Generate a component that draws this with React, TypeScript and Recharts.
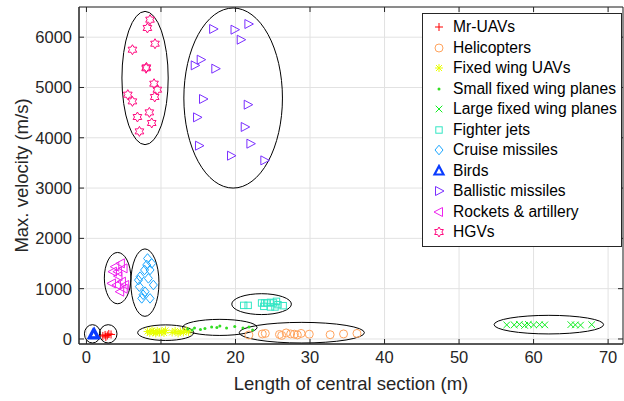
import React from 'react';
import { ScatterChart, Scatter, XAxis, YAxis, CartesianGrid, ReferenceArea, Legend, Label } from 'recharts';

// [length (m), max velocity (m/s)]
const mrUavs = [[2.2, 60], [2.5, 80], [2.6, 40], [2.8, 70], [3.0, 100], [3.3, 90]];
const helicopters = [
  [21.8, 80], [23.6, 100], [24.0, 110], [25.9, 90], [26.2, 70], [26.8, 120], [27.4, 100],
  [27.9, 95], [28.3, 80], [28.8, 110], [29.9, 95], [32.7, 85], [34.5, 100], [36.3, 110],
];
const fixedWingUavs = [
  [8.2, 150], [8.5, 120], [8.8, 170], [9.0, 140], [9.3, 110], [9.5, 160], [9.8, 130], [10.1, 150],
  [10.4, 120], [10.6, 170], [11.5, 130], [11.9, 160], [12.3, 110], [12.6, 150], [13.0, 130], [13.4, 170], [13.7, 140],
];
const smallFixedWing = [
  [13.6, 200], [14.2, 180], [14.5, 220], [15.3, 190], [15.9, 210], [16.8, 240], [17.5, 230],
  [17.9, 260], [18.8, 220], [19.9, 250], [21.0, 220], [21.8, 240], [22.3, 180],
];
const largeFixedWing = [
  [56.4, 280], [57.4, 280], [58.1, 290], [58.8, 270], [59.3, 290], [60.0, 280], [60.8, 285],
  [61.5, 280], [65.0, 285], [65.6, 280], [66.3, 275], [67.8, 285],
];
const fighterJets = [
  [21.1, 668], [21.7, 668], [23.5, 716], [23.8, 648], [23.9, 716], [24.2, 716], [24.7, 728],
  [24.7, 636], [25.1, 716], [25.3, 636], [25.5, 748], [25.7, 682], [26.4, 662],
];
const cruiseMissiles = [
  [8.09, 1471], [8.53, 1372], [7.8, 1372], [8.76, 1503], [7.2, 1239], [8.31, 1205], [8.98, 1073],
  [7.1, 1040], [7.87, 940], [7.42, 807], [8.53, 807], [6.98, 1170], [8.2, 1600], [7.6, 880],
];
const birds = [[0.9, 90], [1.0, 80], [1.05, 100]];
const ballisticMissiles = [
  [17.0, 6163], [19.87, 6149], [21.73, 6262], [20.7, 5950], [15.33, 5553], [14.53, 5440],
  [17.29, 5374], [15.64, 4771], [21.64, 4658], [14.84, 4406], [21.24, 4215], [22.0, 3883],
  [15.1, 3843], [19.4, 3644], [23.87, 3551],
];
const rockets = [
  [3.87, 1437], [4.62, 1503], [4.98, 1404], [3.56, 1338], [4.22, 1338], [5.2, 1073],
  [3.42, 1105], [4.09, 1073], [4.53, 940], [4.76, 1139], [4.3, 1250], [5.0, 1000],
];
const hgvs = [
  [8.53, 6348], [8.18, 6183], [9.2, 5870], [6.17, 5751], [8.0, 5382], [8.05, 5400], [9.07, 5075],
  [9.51, 4956], [9.16, 4811], [5.55, 4857], [6.17, 4724], [8.44, 4505], [6.84, 4413], [8.76, 4294], [7.11, 4127],
];

// cluster ellipses: [x1, x2, y1, y2]
const ellipses = [
  [-0.27, 1.88, -80, 284],
  [1.74, 4.1, -80, 284],
  [6.87, 14.4, -30, 280],
  [12.9, 22.9, 70, 390],
  [20.5, 37.3, -80, 330],
  [19.5, 27.5, 485, 900],
  [54.7, 69.4, 100, 470],
  [2.4, 5.96, 700, 1720],
  [5.96, 9.73, 450, 1790],
  [4.76, 10.97, 3863, 6513],
  [13.07, 26.3, 3000, 6580],
];

const xTicks = [0, 10, 20, 30, 40, 50, 60, 70];
const yTicks = [0, 1000, 2000, 3000, 4000, 5000, 6000];

const series = [
  { name: 'Mr-UAVs', data: mrUavs, kind: 'plus', color: '#FF0000' },
  { name: 'Helicopters', data: helicopters, kind: 'circle', color: '#FFA35C' },
  { name: 'Fixed wing UAVs', data: fixedWingUavs, kind: 'asterisk', color: '#E8FF00' },
  { name: 'Small fixed wing planes', data: smallFixedWing, kind: 'dot', color: '#33DD22' },
  { name: 'Large fixed wing planes', data: largeFixedWing, kind: 'cross', color: '#11EE22' },
  { name: 'Fighter jets', data: fighterJets, kind: 'square', color: '#33E6C4' },
  { name: 'Cruise missiles', data: cruiseMissiles, kind: 'diamond', color: '#1AA6FF' },
  { name: 'Birds', data: birds, kind: 'triUp', color: '#0A3CFF' },
  { name: 'Ballistic missiles', data: ballisticMissiles, kind: 'triRight', color: '#7A2EFF' },
  { name: 'Rockets & artillery', data: rockets, kind: 'triLeft', color: '#EE22EE' },
  { name: 'HGVs', data: hgvs, kind: 'hexagram', color: '#FF0A7F' },
];

const TEXT = '#262626';
const TOP = 7;
const RIGHT = 623;

const Marker = ({ kind, cx, cy, color }: any) => {
  const s = { fill: 'none', stroke: color, strokeWidth: 1 };
  const pts = (arr: number[][]) => arr.map(p => `${cx + p[0]},${cy + p[1]}`).join(' ');
  switch (kind) {
    case 'plus':
      return <path d={`M${cx - 4},${cy}H${cx + 4}M${cx},${cy - 4}V${cy + 4}`} {...s} />;
    case 'circle':
      return <circle cx={cx} cy={cy} r={4} {...s} />;
    case 'asterisk':
      return (
        <path
          d={`M${cx - 4},${cy}H${cx + 4}M${cx},${cy - 4}V${cy + 4}M${cx - 3},${cy - 3}L${cx + 3},${cy + 3}M${cx - 3},${cy + 3}L${cx + 3},${cy - 3}`}
          {...s}
        />
      );
    case 'dot':
      return <circle cx={cx} cy={cy} r={1.5} fill={color} />;
    case 'cross':
      return <path d={`M${cx - 3.3},${cy - 3.3}L${cx + 3.3},${cy + 3.3}M${cx - 3.3},${cy + 3.3}L${cx + 3.3},${cy - 3.3}`} {...s} />;
    case 'square':
      return <rect x={cx - 3.2} y={cy - 3.2} width={6.4} height={6.4} {...s} />;
    case 'diamond':
      return <polygon points={pts([[0, -4.8], [4, 0], [0, 4.8], [-4, 0]])} {...s} />;
    case 'triUp':
      return <polygon points={pts([[0, -5], [4.5, 3.5], [-4.5, 3.5]])} {...s} strokeWidth={2.2} />;
    case 'triRight':
      return <polygon points={pts([[5, 0], [-3.5, -4.5], [-3.5, 4.5]])} {...s} />;
    case 'triLeft':
      return <polygon points={pts([[-5, 0], [3.5, -4.5], [3.5, 4.5]])} {...s} />;
    case 'hexagram': {
      const arr: number[][] = [];
      for (let i = 0; i < 12; i++) {
        const r = i % 2 === 0 ? 5 : 2.9;
        const a = (-90 + i * 30) * Math.PI / 180;
        arr.push([r * Math.cos(a), r * Math.sin(a)]);
      }
      return <polygon points={pts(arr)} {...s} />;
    }
    default:
      return null;
  }
};

const XTick = ({ x, y, payload }: any) => (
  <g>
    <line x1={x} x2={x} y1={y} y2={y - 5} stroke={TEXT} />
    <line x1={x} x2={x} y1={TOP} y2={TOP + 5} stroke={TEXT} />
    <text x={x} y={y + 19} textAnchor="middle" fill={TEXT} fontSize={16.5}>{payload.value}</text>
  </g>
);

const YTick = ({ x, y, payload }: any) => (
  <g>
    <line x1={x} x2={x + 5} y1={y} y2={y} stroke={TEXT} />
    <line x1={RIGHT - 5} x2={RIGHT} y1={y} y2={y} stroke={TEXT} />
    <text x={x - 7} y={y + 6} textAnchor="end" fill={TEXT} fontSize={16.5}>{payload.value}</text>
  </g>
);

const EllipseShape = ({ x, y, width, height }: any) => (
  <ellipse cx={x + width / 2} cy={y + height / 2} rx={Math.abs(width) / 2} ry={Math.abs(height) / 2}
    fill="none" stroke="#000" strokeWidth={1} />
);

const LegendBox = () => (
  <div style={{ border: `1px solid ${TEXT}`, background: '#fff', padding: '3px 0 3px 0', boxSizing: 'border-box' }}>
    {series.map(s => (
      <div key={s.name} style={{ display: 'flex', alignItems: 'center', height: 20.5 }}>
        <svg width={30} height={14} style={{ flex: 'none' }}>
          <Marker kind={s.kind} cx={16} cy={7} color={s.color} />
        </svg>
        <span style={{ fontSize: 15.6, color: '#000', whiteSpace: 'nowrap' }}>{s.name}</span>
      </div>
    ))}
  </div>
);

export default function App() {
  return (
    <div style={{ position: 'absolute', left: 0, top: 0, fontFamily: '"Liberation Sans", Arial, sans-serif', background: '#fff' }}>
      <ScatterChart width={624} height={401} margin={{ top: TOP, right: 1, bottom: 0, left: 0 }}>
        <CartesianGrid stroke="#e2e2e2" />
        <XAxis
          type="number"
          dataKey="x"
          domain={[-1, 72]}
          ticks={xTicks}
          allowDataOverflow
          height={57}
          tickSize={0}
          tickMargin={0}
          tickLine={false}
          axisLine={{ stroke: TEXT }}
          tick={<XTick />}
        >
          <Label
            content={({ viewBox }: any) => (
              <text x={viewBox.x + viewBox.width / 2} y={viewBox.y + 46} textAnchor="middle" fill={TEXT} fontSize={18.5}>
                Length of central section (m)
              </text>
            )}
          />
        </XAxis>
        <YAxis
          type="number"
          dataKey="y"
          domain={[-100, 6600]}
          ticks={yTicks}
          allowDataOverflow
          width={79}
          tickSize={0}
          tickMargin={0}
          tickLine={false}
          axisLine={{ stroke: TEXT }}
          tick={<YTick />}
        >
          <Label
            content={({ viewBox }: any) => {
              const cy = viewBox.y + viewBox.height / 2;
              return (
                <text x={28} y={cy} transform={`rotate(-90, 28, ${cy})`} textAnchor="middle" fill={TEXT} fontSize={18.5}>
                  Max. velocity (m/s)
                </text>
              );
            }}
          />
        </YAxis>
        <ReferenceArea x1={-1} x2={72} y1={-100} y2={6600} fill="none" stroke={TEXT} strokeOpacity={1} fillOpacity={0} />
        {ellipses.map((e, i) => (
          <ReferenceArea key={i} x1={e[0]} x2={e[1]} y1={e[2]} y2={e[3]} shape={<EllipseShape />} />
        ))}
        {series.map(s => (
          <Scatter
            key={s.name}
            name={s.name}
            data={s.data.map(p => ({ x: p[0], y: p[1] }))}
            isAnimationActive={false}
            shape={(p: any) => <Marker kind={s.kind} cx={p.cx} cy={p.cy} color={s.color} />}
          />
        ))}
        <Legend
          layout="vertical"
          align="center"
          verticalAlign="middle"
          wrapperStyle={{ left: 422, top: 13, width: 200 }}
          content={() => <LegendBox />}
        />
      </ScatterChart>
    </div>
  );
}
